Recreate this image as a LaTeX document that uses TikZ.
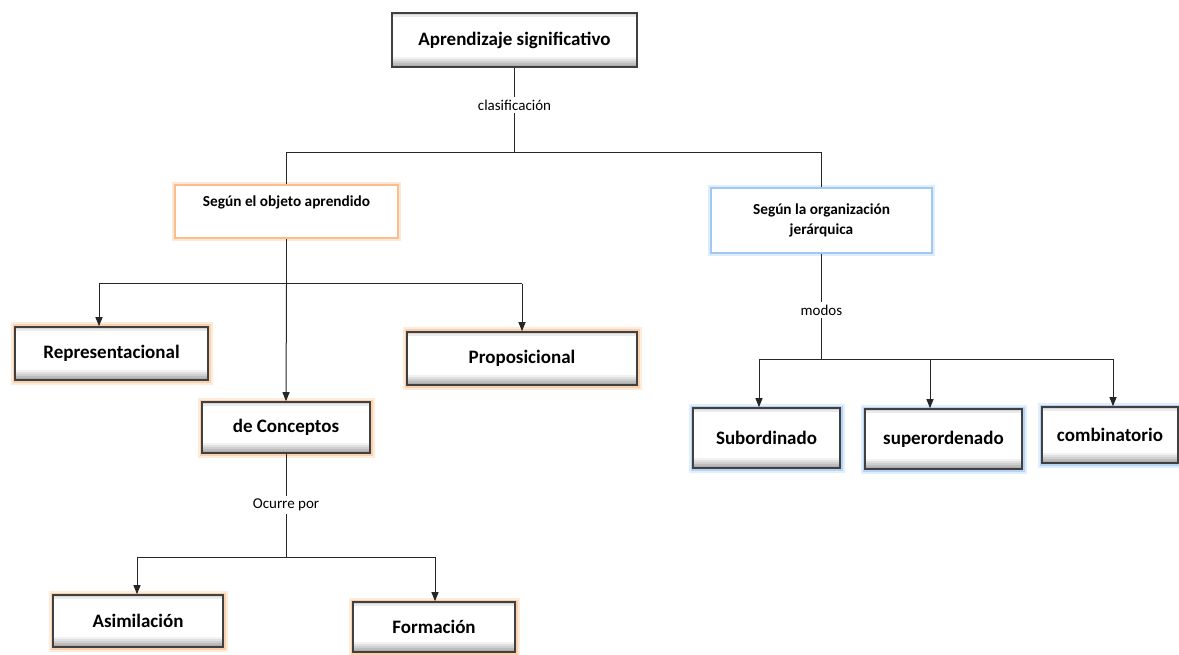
\documentclass[tikz,border=0pt]{standalone}
\usepackage{fontspec}
\setmainfont{Carlito}
\usetikzlibrary{arrows.meta}

\definecolor{glutorange}{RGB}{250,190,140}
\definecolor{glutblau}{RGB}{160,200,245}

\tikzset{
  kasten/.style={draw=black!75, line width=1.6pt, inner sep=0pt, fill=white,
    path picture={
      \foreach \i in {1,...,5}
        \fill[black!\the\numexpr 40-\i*7\relax]
          ([yshift=\i*2pt]path picture bounding box.south west) rectangle ([yshift=\i*2pt-2pt]path picture bounding box.south east);
      \foreach \i in {1,2}
        \fill[black!\the\numexpr 24-\i*8\relax]
          ([yshift=-\i*2pt]path picture bounding box.north west) rectangle ([yshift=-\i*2pt+2pt]path picture bounding box.north east);
    },
    font=\bfseries\fontsize{19}{22}\selectfont},
  orangeglut/.style={preaction={draw=glutorange, line width=9pt, opacity=.3},
    preaction={draw=glutorange, line width=5pt, opacity=.6}},
  blauglut/.style={preaction={draw=glutblau, line width=9pt, opacity=.3},
    preaction={draw=glutblau, line width=5pt, opacity=.7}},
  hellkasten/.style={draw=#1, line width=2.4pt, fill=white, inner sep=0pt,
    align=center, font=\bfseries\fontsize{15.3}{19.5}\selectfont,
    preaction={draw=#1, line width=6pt, opacity=.35}},
  etikett/.style={fill=white, inner sep=3pt, font=\fontsize{15}{18}\selectfont},
  linie/.style={draw=black!85, line width=1pt},
  pfeil/.style={linie, -{Triangle[length=9pt,width=7pt]}},
}

\begin{document}
\begin{tikzpicture}[x=1pt,y=-1pt]
    \useasboundingbox (0,0) rectangle (1179,655);
    % Wurzel
    \node[kasten, minimum width=245, minimum height=54] (raiz) at (514.5,40) {Aprendizaje significativo};
    % zweite Ebene
    \node[hellkasten=glutorange, minimum width=223, minimum height=53, text depth=20pt] (objeto) at (286.5,211.5) {Según el objeto aprendido};
    \node[hellkasten=glutblau, minimum width=221, minimum height=65] (jerarquia) at (821.5,220.5) {Según la organización\\jerárquica};
    % Blaetter links
    \node[kasten, orangeglut, minimum width=193, minimum height=53] (repr) at (111.5,353.5) {Representacional};
    \node[kasten, orangeglut, minimum width=230, minimum height=53] (prop) at (522,358.5) {Proposicional};
    \node[kasten, orangeglut, minimum width=168, minimum height=51] (concep) at (286,427.5) {de Conceptos};
    \node[kasten, orangeglut, minimum width=170, minimum height=52] (asim) at (138,621) {Asimilación};
    \node[kasten, orangeglut, minimum width=162, minimum height=50] (form) at (434,627) {Formación};
    % Blaetter rechts
    \node[kasten, blauglut, minimum width=147, minimum height=60] (subord) at (766.5,438) {Subordinado};
    \node[kasten, blauglut, minimum width=157, minimum height=60] (superord) at (943.5,439) {superordenado};
    \node[kasten, blauglut, minimum width=136, minimum height=56] (comb) at (1110,435) {combinatorio};

    % Etiketten
    \node[etikett] (clasif) at (514.5,105) {clasificación};
    \node[etikett] (ocurre) at (286,505) {Ocurre por};
    \node[etikett] (modos) at (821.5,310) {modos};

    % Verzweigungen
    \coordinate (g1) at (514.5,153);
    \coordinate (g1l) at (286.5,153);
    \coordinate (g1r) at (821.5,153);
    \coordinate (g2) at (286.5,284);
    \coordinate (g2l) at (99,284);
    \coordinate (g2r) at (522,284);
    \coordinate (g3) at (286,557);
    \coordinate (g3l) at (137,557);
    \coordinate (g3r) at (435,557);
    \coordinate (g4) at (821.5,359);
    \coordinate (g4l) at (759,359);
    \coordinate (g4m) at (930,359);
    \coordinate (g4r) at (1113,359);

    % Linien
    \draw[linie] (raiz) -- (clasif);
    \draw[linie] (clasif) -- (g1);
    \draw[linie] (objeto.north) -- (g1l) -- (g1r) -- (jerarquia.north);
    \draw[linie] (objeto) -- (g2);
    \draw[linie] (g2l) -- (g2r);
    \draw[pfeil] (g2l) -- (repr.north -| g2l);
    \draw[pfeil] (g2r) -- (prop.north -| g2r);
    \draw[pfeil] (g2) -- (concep.north);
    \draw[linie] (concep) -- (ocurre);
    \draw[linie] (ocurre) -- (g3);
    \draw[linie] (g3l) -- (g3r);
    \draw[pfeil] (g3l) -- (asim.north -| g3l);
    \draw[pfeil] (g3r) -- (form.north -| g3r);
    \draw[linie] (jerarquia) -- (modos);
    \draw[linie] (modos) -- (g4);
    \draw[linie] (g4l) -- (g4r);
    \draw[pfeil] (g4l) -- (subord.north -| g4l);
    \draw[pfeil] (g4m) -- (superord.north -| g4m);
    \draw[pfeil] (g4r) -- (comb.north -| g4r);
\end{tikzpicture}
\end{document}
